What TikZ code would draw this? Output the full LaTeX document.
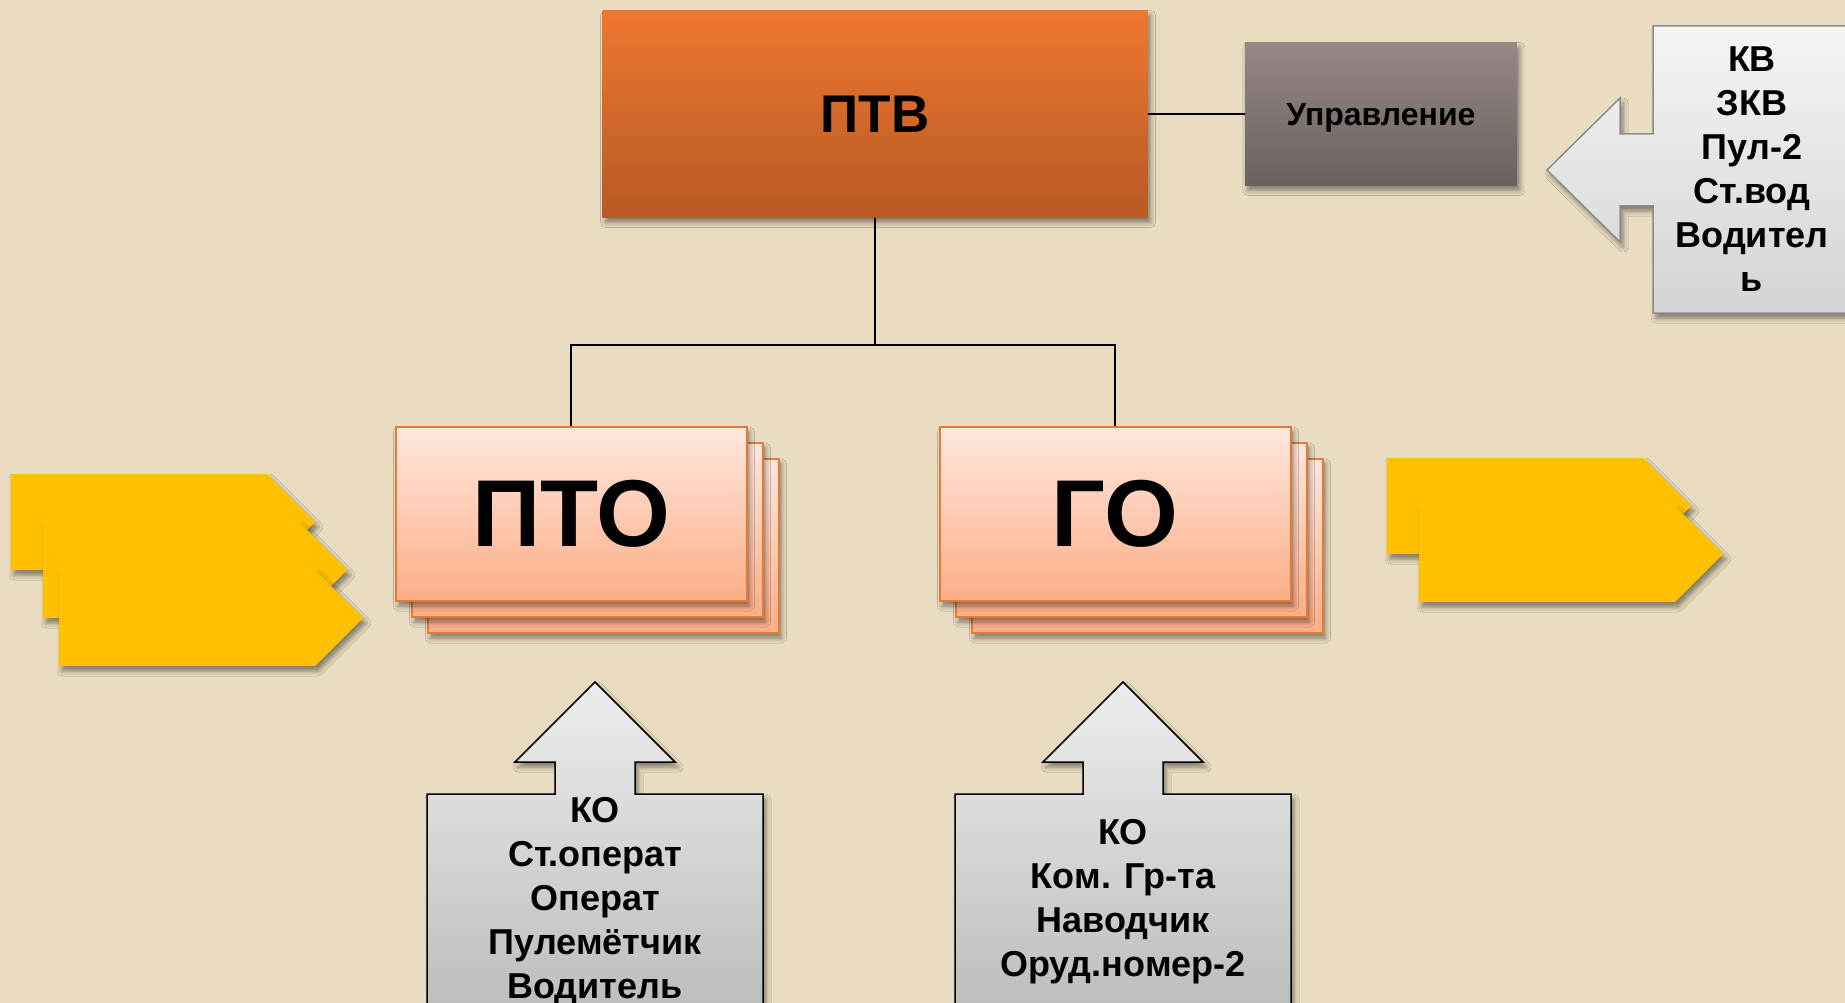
\documentclass[tikz,border=0pt]{standalone}
\usepackage{fontspec}
\setmainfont{Liberation Sans}
\usetikzlibrary{positioning,shadows.blur}

\definecolor{paper}{HTML}{E9DCC1}
\definecolor{ptvtop}{HTML}{EE7731}
\definecolor{ptvbot}{HTML}{B85A24}
\definecolor{uprtop}{HTML}{958886}
\definecolor{uprbot}{HTML}{6C615E}
\definecolor{cardtop}{HTML}{FFE8DF}
\definecolor{cardbot}{HTML}{FCAE87}
\definecolor{cardline}{HTML}{E07C3A}
\definecolor{tabfill}{HTML}{FFC000}

\begin{document}
\begin{tikzpicture}
      [ x=1pt, y=-1pt,
        every node/.style={inner sep=0pt, align=center},
        shade/.style={blur shadow={shadow xshift=3pt, shadow yshift=-5pt,
                      shadow blur radius=5pt, shadow opacity=45}},
        head/.style={rectangle, minimum width=545pt, minimum height=207pt,
                     top color=ptvtop, bottom color=ptvbot, shade,
                     font=\bfseries\fontsize{53}{60}\selectfont},
        staff/.style={rectangle, minimum width=272pt, minimum height=143pt,
                      top color=uprtop, bottom color=uprbot, shade, text depth=0pt,
                      font=\bfseries\fontsize{32}{36}\selectfont},
        card/.style={rectangle, minimum width=351pt, minimum height=174pt,
                     draw=cardline, line width=2pt,
                     top color=cardtop, bottom color=cardbot, shade,
                     font=\bfseries\fontsize{95}{100}\selectfont},
        tab/.style={fill=tabfill, shade},
        callout/.style={draw=black, line width=1.5pt,
                        top color=black!7, bottom color=black!26, shade},
        roster/.style={font=\bfseries\fontsize{36}{44}\selectfont},
        link/.style={draw=black, line width=1.5pt}
      ]
      \fill[paper] (0,0) rectangle (1845,1003);
      \useasboundingbox (0,0) rectangle (1845,1003);
      \clip (0,0) rectangle (1845,1003);

      % top of the tree
      \node[head]  (ptv)                        at (875,114) {ПТВ};
      \node[staff] (upr)  [right=97pt of ptv]   {Управление};

      % stacked cards
      \foreach \d in {32,16}{
        \node[card] (pto-\d) at (571+\d,514+\d) {};
        \node[card] (go-\d)  at (1115+\d,514+\d) {};
      }
      \node[card] (pto) at (571,514)  {ПТО};
      \node[card] (go)  at (1115,514) {ГО};

      \coordinate (fork) at (875,345);
      \path[link] (ptv) -- (upr);
      \path[link] (ptv) -- (fork) -| (pto);
      \path[link] (fork) -| (go);

      % yellow tabs
      \foreach \x/\y in {11/474,43/522,59/570,1387/458,1419/506}
        \path[tab] (\x,\y) -- ++(256,0) -- ++(48,48) -- ++(-48,48)
                   -- ++(-256,0) -- cycle;

      % callouts
      \path[callout, draw=black!45, top color=black!4, bottom color=black!17]
        (1653,26) -- (1852,26) -- (1852,313) -- (1653,313) -- (1653,206)
        -- (1620,206) -- (1620,242) -- (1547,170) -- (1620,98)
        -- (1620,134) -- (1653,134) -- cycle;
      \node[roster, font=\bfseries\fontsize{36}{44}\selectfont] (crew) at (1752,169)
        {КВ\\ЗКВ\\Пул-2\\Ст.вод\\Водител\\ь};

      \foreach \c in {595,1123}
        \path[callout] (\c-168,794) -- (\c-40,794) -- (\c-40,762) -- (\c-80,762)
          -- (\c,682) -- (\c+80,762) -- (\c+40,762) -- (\c+40,794)
          -- (\c+168,794) -- (\c+168,1012) -- (\c-168,1012) -- cycle;
      \node[roster] (ptoCrew) at (595,902)
        {КО\\Ст.операт\\Операт\\Пулемётчик\\Водитель};
      \node[roster] (goCrew) at (1123,902)
        {КО\\Ком. Гр-та\\Наводчик\\Оруд.номер-2};
\end{tikzpicture}
\end{document}
